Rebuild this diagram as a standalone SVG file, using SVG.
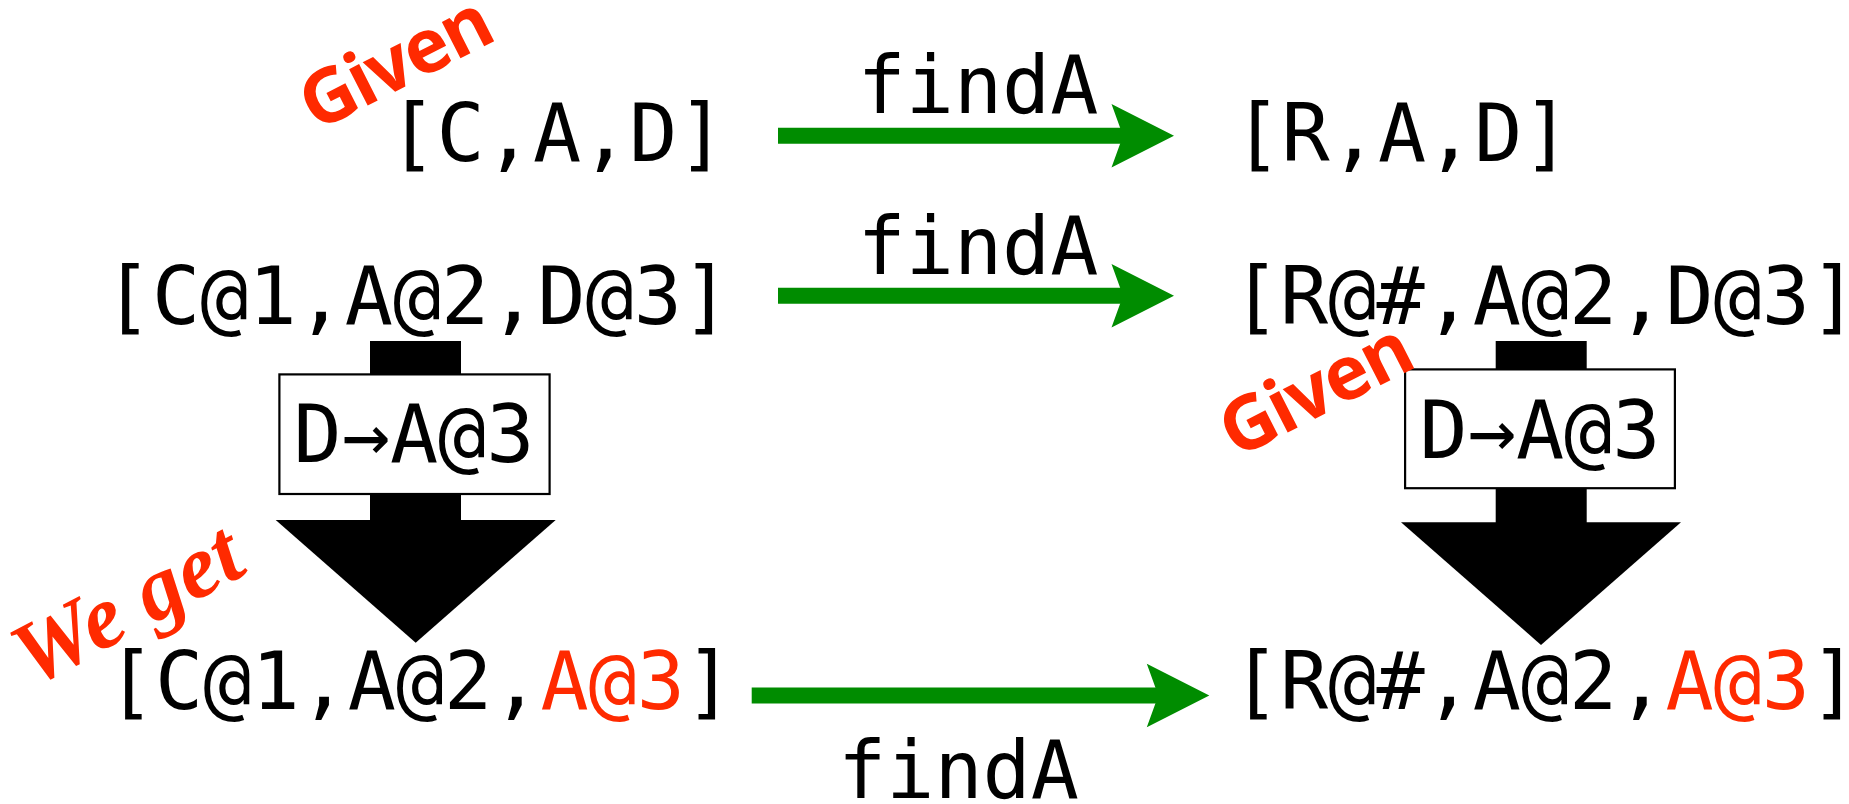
<svg xmlns="http://www.w3.org/2000/svg" width="1849" height="804" viewBox="0 0 1849 804">
  <style>
    .mono { font-family: "DejaVu Sans Mono", "Liberation Mono", monospace; font-size: 80px; fill: #000; }
    .hl { fill: #ff2a00; }
    .shaft { stroke: #008c00; stroke-width: 16; fill: none; }
    .bar { fill: #000; }
    .box { fill: #fff; stroke: #000; stroke-width: 2.2; }
    .note-sans { font-family: "Open Sans", "Noto Sans", sans-serif; font-weight: 700; font-size: 75px; letter-spacing: -2px; fill: #ff2a00; }
    .note-serif { font-family: "Liberation Serif", serif; font-weight: 700; font-style: italic; font-size: 90px; fill: #ff2a00; }
  </style>
  <defs>
    <marker id="head" markerUnits="userSpaceOnUse" markerWidth="70" markerHeight="70" refX="42.5" refY="31.7" orient="auto" overflow="visible">
      <path d="M0,0 L62.5,31.7 L0,63.4 L11.5,31.7 Z" fill="#008c00"/>
    </marker>
  </defs>

  <!-- findA connectors -->
  <g id="connectors">
    <line class="shaft" x1="778" y1="135.7" x2="1154" y2="135.7" marker-end="url(#head)"/>
    <line class="shaft" x1="778" y1="295.7" x2="1154" y2="295.7" marker-end="url(#head)"/>
    <line class="shaft" x1="751.7" y1="695.5" x2="1189.3" y2="695.5" marker-end="url(#head)"/>
    <text class="mono" x="978" y="113.3" text-anchor="middle">findA</text>
    <text class="mono" x="978" y="274" text-anchor="middle">findA</text>
    <text class="mono" x="958.5" y="798" text-anchor="middle">findA</text>
  </g>

  <!-- list values -->
  <g id="list-cad">
    <text class="mono" x="557" y="161" text-anchor="middle">[C,A,D]</text>
  </g>
  <g id="list-rad">
    <text class="mono" x="1402" y="161" text-anchor="middle">[R,A,D]</text>
  </g>
  <g id="list-c1a2d3">
    <text class="mono" x="417" y="323.5" text-anchor="middle">[C@1,A@2,D@3]</text>
  </g>
  <g id="list-ra2d3">
    <text class="mono" x="1545" y="323.5" text-anchor="middle">[R@#,A@2,D@3]</text>
  </g>
  <g id="list-c1a2a3">
    <text class="mono" x="420" y="709" text-anchor="middle">[C@1,A@2,<tspan class="hl">A@3</tspan>]</text>
  </g>
  <g id="list-ra2a3">
    <text class="mono" x="1545" y="709" text-anchor="middle">[R@#,A@2,<tspan class="hl">A@3</tspan>]</text>
  </g>

  <!-- rewrite step, left column -->
  <g id="rewrite-left">
    <rect class="bar" x="370" y="341" width="91" height="180"/>
    <polygon class="bar" points="275.7,520 555.7,520 415.7,642.7"/>
    <rect class="box" x="279.4" y="374.4" width="270.2" height="119.6"/>
    <text class="mono" x="414" y="461.7" text-anchor="middle">D→A@3</text>
  </g>

  <!-- rewrite step, right column -->
  <g id="rewrite-right">
    <rect class="bar" x="1495.7" y="341" width="91" height="182"/>
    <polygon class="bar" points="1401,522.3 1681,522.3 1541,645"/>
    <rect class="box" x="1405.1" y="369.4" width="269.8" height="118.8"/>
    <text class="mono" x="1540" y="457.7" text-anchor="middle">D→A@3</text>
  </g>

  <!-- annotations -->
  <g id="note-given-top">
    <text class="note-sans" transform="translate(316,132) rotate(-27)">Given</text>
  </g>
  <g id="note-given-right">
    <text class="note-sans" transform="translate(1236,459) rotate(-27)">Given</text>
  </g>
  <g id="note-we-get">
    <text class="note-serif" transform="translate(32,688) rotate(-28)">We get</text>
  </g>
</svg>
